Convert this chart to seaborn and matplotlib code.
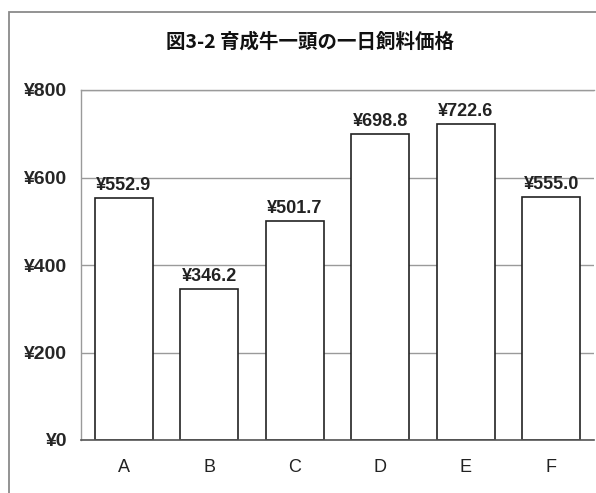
import matplotlib
matplotlib.use("Agg")
import matplotlib.pyplot as plt
from matplotlib.patches import Rectangle
from matplotlib.ticker import FixedLocator, FuncFormatter
import seaborn as sns
import pandas as pd

# Daily feed cost per growing head of cattle, by farm
farms = ["A", "B", "C", "D", "E", "F"]
costs = [552.9, 346.2, 501.7, 698.8, 722.6, 555.0]
y_ticks = [0, 200, 400, 600, 800]
title = "図3-2 育成牛一頭の一日飼料価格"

df = pd.DataFrame({"farm": farms, "cost": costs})

sns.set_theme(style="white")
plt.rcParams["font.family"] = ["Liberation Sans", "Noto Sans CJK JP", "DejaVu Sans"]

W, H = 596, 493
fig = plt.figure(figsize=(W / 100, H / 100), dpi=100)
fig.patch.set_facecolor("white")

# outer chart frame (left and top edges visible)
fig.patches.append(Rectangle((9 / W, -0.1), 1.2, 1 - 12 / H + 0.1,
                             transform=fig.transFigure, fill=False,
                             edgecolor="#8a8a8a", linewidth=1.3))

ax = fig.add_axes([81 / W, 1 - 440 / H, (594 - 81) / W, (440 - 90) / H])

sns.barplot(data=df, x="farm", y="cost", ax=ax, color="white",
            edgecolor="#222222", linewidth=1.2, width=0.68, saturation=1)

ax.set_ylim(0, 800)
ax.set_xlim(-0.5, len(farms) - 0.5)
ax.yaxis.set_major_locator(FixedLocator(y_ticks))
ax.yaxis.set_major_formatter(FuncFormatter(lambda v, p: f"¥{v:,.0f}"))
ax.grid(axis="y", color="#9a9a9a", linewidth=1.0)
ax.set_axisbelow(True)

for s in ["top", "left"]:
    ax.spines[s].set_color("#9a9a9a")
    ax.spines[s].set_linewidth(1.0)
ax.spines["right"].set_visible(False)
ax.spines["bottom"].set_color("#555555")
ax.spines["bottom"].set_linewidth(1.2)

ax.set_xlabel("")
ax.set_ylabel("")
ax.tick_params(axis="y", length=0, pad=10, labelsize=14)
for lab in ax.get_yticklabels():
    lab.set_fontweight("bold")
ax.tick_params(axis="x", which="major", length=0, pad=14, labelsize=13, labelcolor="#222222")
ax.xaxis.set_minor_locator(FixedLocator([i + 0.5 for i in range(len(farms))]))
ax.tick_params(axis="x", which="minor", direction="in", length=4, color="#888888", width=1)

for i, v in enumerate(costs):
    ax.text(i, v + 9, f"¥{v:.1f}", ha="center", va="bottom",
            fontsize=13, fontweight="bold", color="#222222")

fig.text(310 / W, 1 - 42 / H, title, ha="center", va="center",
         fontsize=14, fontweight="bold",
         family=["Noto Sans CJK JP", "DejaVu Sans"], color="#111111")

fig.savefig("out.png", dpi=100, facecolor="white")
